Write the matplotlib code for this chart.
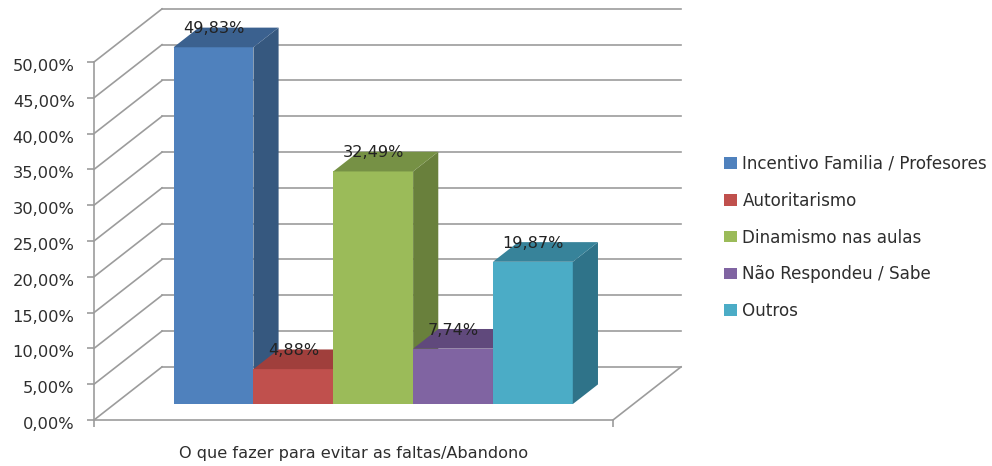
"""Faux 3D column chart: O que fazer para evitar as faltas/Abandono."""

import matplotlib
matplotlib.use("Agg")
import matplotlib.pyplot as plt
from matplotlib.patches import Patch
from matplotlib.transforms import ScaledTranslation

CATEGORY = "O que fazer para evitar as faltas/Abandono"
SERIES = ["Incentivo Familia / Profesores", "Autoritarismo", "Dinamismo nas aulas",
          "Não Respondeu / Sabe", "Outros"]
VALUES = [49.83, 4.88, 32.49, 7.74, 19.87]
YTICKS = [0, 5, 10, 15, 20, 25, 30, 35, 40, 45, 50]
YTICK_LABELS = ["0,00%", "5,00%", "10,00%", "15,00%", "20,00%", "25,00%",
                "30,00%", "35,00%", "40,00%", "45,00%", "50,00%"]

FRONT = ["#4F81BD", "#C0504D", "#9BBB59", "#8064A2", "#4BACC6"]
SIDE = ["#36587F", "#833634", "#69803C", "#574370", "#2F7389"]
TOP = ["#3B618F", "#A03F3C", "#769145", "#60497C", "#37839A"]
GRID = "#9C9C9C"
TEXT = "#2E2E2E"

# depth of the 3D box, in data units per full depth
DEPTH_X = 0.852
DEPTH_Y = 7.42
BAR_FRONT = 0.30
BAR_BACK = 0.67
XMIN, XMAX = -0.741, 5.759


def project(x, y, d):
    return x + d * DEPTH_X, y + d * DEPTH_Y


def line3d(ax, p0, p1):
    a = project(*p0)
    b = project(*p1)
    ax.plot([a[0], b[0]], [a[1], b[1]], color=GRID, lw=1.2, clip_on=False, zorder=1)


plt.rcParams["font.family"] = "DejaVu Sans"
fig = plt.figure(figsize=(9.92, 4.66), dpi=100)
ax = fig.add_axes([94 / 992, 46 / 466, 519 / 992, 358 / 466])
ax.set_xlim(XMIN, XMAX)
ax.set_ylim(0, 50)

# walls and floor
for t in YTICKS:
    line3d(ax, (XMIN, t, 0), (XMIN, t, 1))
    line3d(ax, (XMIN, t, 1), (XMAX, t, 1))
line3d(ax, (XMAX, 0, 0), (XMAX, 0, 1))

# columns, left to right so each one covers the side of the previous one
for i, v in enumerate(VALUES):
    x0, x1 = i, i + 1
    fx, fy = project(x0, 0, BAR_FRONT)
    ax.bar(fx, v, width=1, bottom=fy, align="edge", color=FRONT[i], clip_on=False, zorder=3)
    side = [project(x1, 0, BAR_FRONT), project(x1, v, BAR_FRONT),
            project(x1, v, BAR_BACK), project(x1, 0, BAR_BACK)]
    ax.fill(*zip(*side), color=SIDE[i], lw=0, clip_on=False, zorder=3)
    top = [project(x0, v, BAR_FRONT), project(x1, v, BAR_FRONT),
           project(x1, v, BAR_BACK), project(x0, v, BAR_BACK)]
    ax.fill(*zip(*top), color=TOP[i], lw=0, clip_on=False, zorder=3)

# value labels sit over the back edge of each column top
for i, v in enumerate(VALUES):
    lx = project(i + 0.5, v, BAR_FRONT)[0]
    ly = project(i + 0.5, v, BAR_BACK)[1] - 0.15
    label = f"{v:.2f}%".replace(".", ",")
    ax.text(lx, ly, label, fontsize=11.6, color="#222222", ha="center", va="center", zorder=5)

for s in ["top", "right"]:
    ax.spines[s].set_visible(False)
for s in ["left", "bottom"]:
    ax.spines[s].set_color(GRID)
    ax.spines[s].set_linewidth(1.2)
ax.set_yticks(YTICKS)
ax.set_yticklabels(YTICK_LABELS, fontsize=11.7, color=TEXT)
ax.set_xticks([XMIN, XMAX])
ax.set_xticklabels(["", ""])
ax.tick_params(axis="both", color=GRID, length=5, width=1.2)
ax.tick_params(axis="y", pad=9)
# tick labels hang a little below their ticks
shift = ScaledTranslation(0, -3 / 100, fig.dpi_scale_trans)
for lab in ax.get_yticklabels():
    lab.set_transform(lab.get_transform() + shift)
ax.set_xlabel(CATEGORY, fontsize=11.6, color=TEXT, labelpad=10)

handles = [Patch(facecolor=c, edgecolor="none") for c in FRONT]
fig.legend(handles, SERIES, loc="upper left", bbox_to_anchor=(724 / 992, 1 - 155 / 466),
           frameon=False, fontsize=12.1, labelcolor=TEXT, handlelength=0.8, handleheight=0.68,
           handletextpad=0.3, labelspacing=1.117, borderpad=0, borderaxespad=0)

fig.savefig("out.png", dpi=100, facecolor="white")
